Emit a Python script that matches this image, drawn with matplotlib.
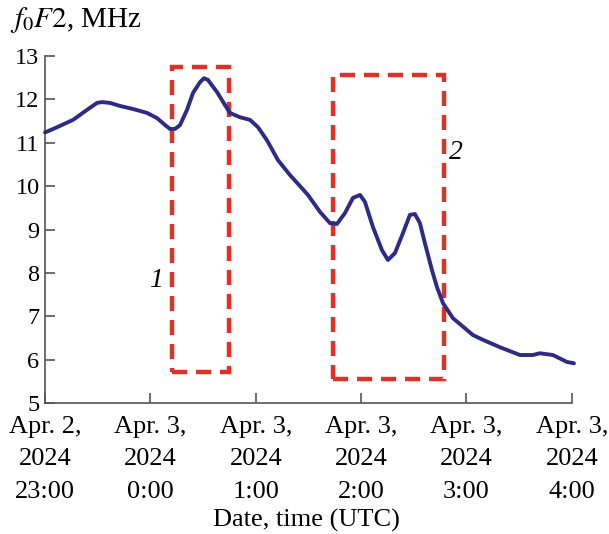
import matplotlib
matplotlib.use("Agg")
import matplotlib.pyplot as plt
from matplotlib.patches import Rectangle

plt.rcParams['font.family'] = ['Liberation Serif', 'DejaVu Serif']
plt.rcParams['mathtext.fontset'] = 'stix'

# hours after Apr. 2, 2024 23:00 UTC
hours = [0.00, 0.114, 0.266, 0.398, 0.493, 0.541, 0.617, 0.712, 0.835, 0.968, 1.063, 1.139, 1.186,
         1.233, 1.281, 1.347, 1.404, 1.471, 1.509, 1.546, 1.632, 1.708, 1.755, 1.850, 1.945, 2.021,
         2.106, 2.211, 2.324, 2.495, 2.609, 2.704, 2.770, 2.846, 2.922, 2.989, 3.036, 3.112, 3.197,
         3.254, 3.321, 3.397, 3.463, 3.510, 3.558, 3.605, 3.672, 3.719, 3.776, 3.871, 4.061, 4.156,
         4.317, 4.507, 4.630, 4.696, 4.820, 4.953, 5.020]
f0F2 = [11.24, 11.36, 11.53, 11.76, 11.92, 11.94, 11.92, 11.85, 11.78, 11.69, 11.57, 11.41, 11.32,
        11.32, 11.41, 11.76, 12.15, 12.40, 12.49, 12.45, 12.17, 11.87, 11.69, 11.59, 11.53, 11.36,
        11.06, 10.60, 10.26, 9.80, 9.41, 9.15, 9.13, 9.38, 9.73, 9.80, 9.64, 9.06, 8.53,
        8.30, 8.46, 8.92, 9.34, 9.36, 9.15, 8.69, 8.07, 7.68, 7.31, 6.96, 6.57, 6.46,
        6.29, 6.11, 6.11, 6.15, 6.11, 5.95, 5.92]

xticks = [0, 1, 2, 3, 4, 5]
xticklabels = ["Apr. 2,\n2024\n23:00", "Apr. 3,\n2024\n0:00", "Apr. 3,\n2024\n1:00",
               "Apr. 3,\n2024\n2:00", "Apr. 3,\n2024\n3:00", "Apr. 3,\n2024\n4:00"]
yticks = [5, 6, 7, 8, 9, 10, 11, 12, 13]

# highlighted intervals
box_x0 = [1.205, 2.733]
box_x1 = [1.746, 3.786]
box_y0 = [5.72, 5.56]
box_y1 = [12.75, 12.56]
box_labels = ["1", "2"]
label_x = [1.05, 3.90]
label_y = [7.82, 10.78]

fig = plt.figure(figsize=(6.09, 5.34), dpi=100)
ax = fig.add_axes([0.074, 0.245, 0.865, 0.650])

ax.plot(hours, f0F2, color='#2c2b85', lw=2.8, solid_capstyle='round',
        solid_joinstyle='round', zorder=3, clip_on=False)

for x0, x1, y0, y1 in zip(box_x0, box_x1, box_y0, box_y1):
    ax.add_patch(Rectangle((x0, y0), x1 - x0, y1 - y0, fill=False, edgecolor='#e03128',
                           lw=3.2, linestyle=(0, (3.4, 2.0)), zorder=2))

for lx, ly, lab in zip(label_x, label_y, box_labels):
    ax.text(lx, ly, lab, fontsize=20, style='italic', ha='center', va='center')

ax.set_xlim(0, 5)
ax.set_ylim(5, 13)
ax.set_xticks(xticks)
ax.set_xticklabels(xticklabels, linespacing=1.62)
ax.set_yticks(yticks)
for s in ['top', 'right']:
    ax.spines[s].set_visible(False)
for s in ['left', 'bottom']:
    ax.spines[s].set_color('#555555')
    ax.spines[s].set_linewidth(1.2)
ax.tick_params(direction='in', length=7, width=1.2, color='#555555')
ax.tick_params(axis='y', labelsize=17.5, pad=4)
ax.tick_params(axis='x', labelsize=19, pad=9)

ax.set_xlabel("Date, time (UTC)", fontsize=19, va='center')
ax.xaxis.set_label_coords(0.497, -0.338)
fig.text(0.016, 0.962, r"$f_0F2$, MHz", fontsize=21, ha='left', va='center')

fig.savefig("out.png", dpi=100)
